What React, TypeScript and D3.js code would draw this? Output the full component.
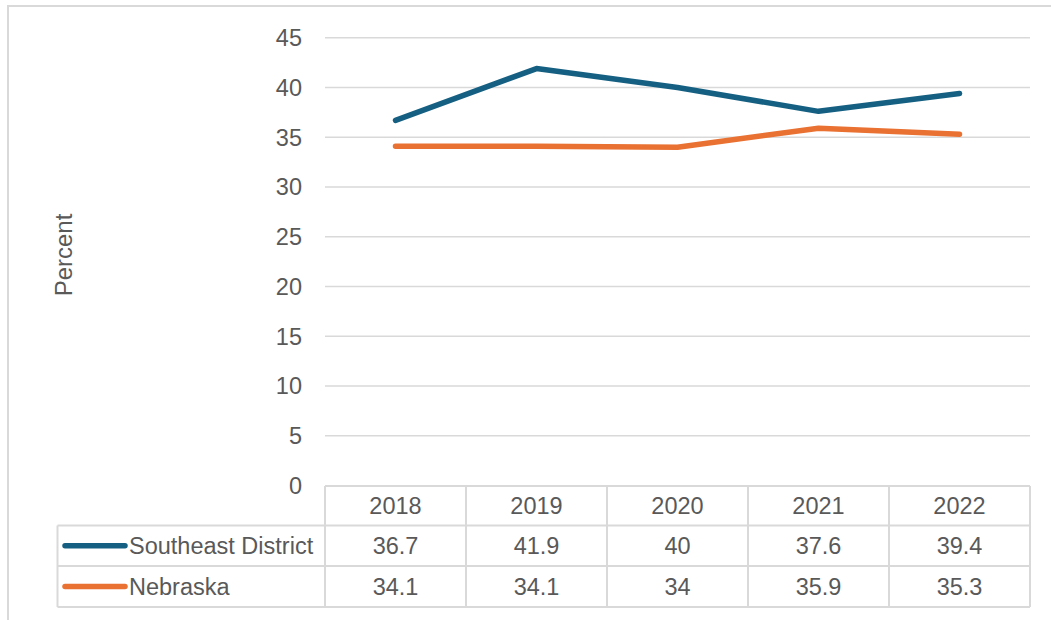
import React from "react";
import * as d3 from "d3";

const years = ["2018", "2019", "2020", "2021", "2022"];
const southeast = [36.7, 41.9, 40, 37.6, 39.4];
const nebraska = [34.1, 34.1, 34, 35.9, 35.3];
const yTicks = [0, 5, 10, 15, 20, 25, 30, 35, 40, 45];
const seriesNames = ["Southeast District", "Nebraska"];
const seriesColors = ["#156082", "#E97132"];

const W = 1051;
const H = 620;
const FONT = "'Liberation Sans', Arial, sans-serif";
const TEXT = "#595959";
const GRID = "#d9d9d9";
const FS = 23.5;

export default function App() {
  const plotLeft = 325;
  const plotRight = 1030;
  const yTop = 37.7;
  const yBottom = 485.5;
  const x = d3.scaleBand<string>().domain(years).range([plotLeft, plotRight]).padding(0);
  const y = d3.scaleLinear().domain([0, 45]).range([yBottom, yTop]);
  const series = [southeast, nebraska];
  const line = d3
    .line<number>()
    .x((_, i) => (x(years[i]) as number) + x.bandwidth() / 2)
    .y((d) => y(d));

  const rowTops = [486, 525.5, 566, 607];
  const legendLeft = 57.5;

  return (
    <svg width={W} height={H} style={{ position: "absolute", left: 0, top: 0 }} fontFamily={FONT}>
      <rect x={0} y={0} width={W} height={H} fill="#fff" />
      <rect x={8} y={6} width={W + 20} height={H} fill="none" stroke={GRID} strokeWidth={2} />
      {yTicks.map((t) => (
        <g key={t}>
          {t > 0 && (
            <line x1={plotLeft} x2={plotRight} y1={y(t)} y2={y(t)} stroke={GRID} strokeWidth={1.5} />
          )}
          <text x={302} y={y(t)} dy="0.36em" textAnchor="end" fontSize={FS} fill={TEXT}>
            {t}
          </text>
        </g>
      ))}
      <text
        transform={`translate(72,255) rotate(-90)`}
        textAnchor="middle"
        fontSize={24}
        fill={TEXT}
      >
        Percent
      </text>
      {/* table grid */}
      <g stroke={GRID} strokeWidth={2} fill="none">
        <line x1={plotLeft} x2={plotRight} y1={rowTops[0]} y2={rowTops[0]} />
        <line x1={legendLeft} x2={plotRight} y1={rowTops[1]} y2={rowTops[1]} />
        <line x1={legendLeft} x2={plotRight} y1={rowTops[2]} y2={rowTops[2]} />
        <line x1={legendLeft} x2={plotRight} y1={rowTops[3]} y2={rowTops[3]} />
        <line x1={legendLeft} x2={legendLeft} y1={rowTops[1]} y2={rowTops[3]} />
        {years.map((yr) => (
          <line key={yr} x1={x(yr)} x2={x(yr)} y1={rowTops[0]} y2={rowTops[3]} />
        ))}
        <line x1={plotRight} x2={plotRight} y1={rowTops[0]} y2={rowTops[3]} />
      </g>
      {years.map((yr) => (
        <text
          key={yr}
          x={(x(yr) as number) + x.bandwidth() / 2}
          y={(rowTops[0] + rowTops[1]) / 2}
          dy="0.36em"
          textAnchor="middle"
          fontSize={FS}
          fill={TEXT}
        >
          {yr}
        </text>
      ))}
      {series.map((vals, si) => {
        const cy = (rowTops[si + 1] + rowTops[si + 2]) / 2;
        return (
          <g key={si}>
            <line x1={65} x2={125} y1={cy} y2={cy} stroke={seriesColors[si]} strokeWidth={5.5} strokeLinecap="round" />
            <text x={129} y={cy} dy="0.36em" fontSize={FS} fill={TEXT}>
              {seriesNames[si]}
            </text>
            {vals.map((v, i) => (
              <text
                key={i}
                x={(x(years[i]) as number) + x.bandwidth() / 2}
                y={cy}
                dy="0.36em"
                textAnchor="middle"
                fontSize={FS}
                fill={TEXT}
              >
                {String(v)}
              </text>
            ))}
          </g>
        );
      })}
      {series.map((vals, si) => (
        <path
          key={si}
          d={line(vals) || ""}
          fill="none"
          stroke={seriesColors[si]}
          strokeWidth={5.5}
          strokeLinecap="round"
          strokeLinejoin="round"
        />
      ))}
    </svg>
  );
}
